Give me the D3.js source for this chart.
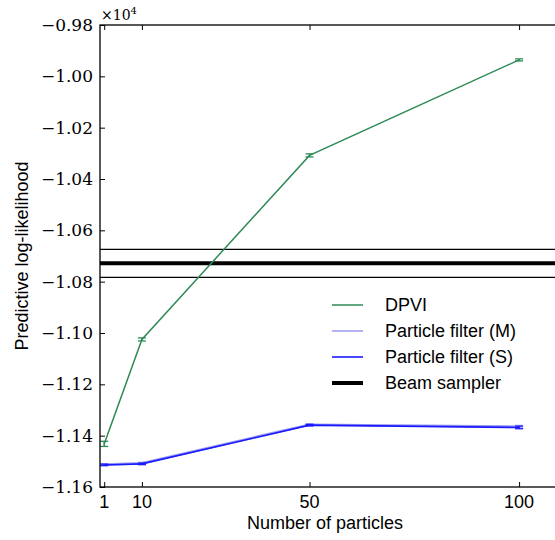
<!DOCTYPE html>
<html lang="en">
<head>
<meta charset="utf-8">
<title>Predictive log-likelihood</title>
<script src="https://cdn.jsdelivr.net/npm/d3@7"></script>
<style>
body { margin: 0; background: #fff; }
svg { display: block; }
</style>
</head>
<body>
<script>

// Data (values in units of 10^4)
var particles = [1, 10, 50, 100];
var dpvi      = [-1.1432, -1.1025, -1.0308, -0.9936];
var dpviErr   = [0.0010, 0.0006, 0.0006, 0.0004];
var pfM       = [-1.1512, -1.1507, -1.1357, -1.1365];
var pfMErr    = [0.0003, 0.0003, 0.0003, 0.0005];
var pfS       = [-1.1514, -1.1510, -1.1359, -1.1368];
var pfSErr    = [0.0003, 0.0003, 0.0003, 0.0005];
var beamMean  = -1.0728;
var beamBand  = [-1.0674, -1.0783];
var yTicks    = [-0.98, -1.00, -1.02, -1.04, -1.06, -1.08, -1.10, -1.12, -1.14, -1.16];
var xTicks    = [1, 10, 50, 100];
var legendNames = ["DPVI", "Particle filter (M)", "Particle filter (S)", "Beam sampler"];

/*********************************************************************/
// Canvas

var W = 555, H = 540;
var mLeft = 100, mTop = 25, mRight = 561, mBottom = 487;

var svg = d3.select("body").append("svg")
	.attr("width", W)
	.attr("height", H);

var x = d3.scaleLinear().domain([0, 110]).range([mLeft, mRight]);
var y = d3.scaleLinear().domain([-1.16, -0.98]).range([mBottom, mTop]);

var serif = "'DejaVu Serif', serif";
var sans = "'Liberation Sans', Arial, sans-serif";

/*********************************************************************/
// Beam sampler

svg.selectAll(".band").data(beamBand).enter()
	.append("line")
	.attr("x1", mLeft).attr("x2", mRight)
	.attr("y1", function(d){ return y(d); })
	.attr("y2", function(d){ return y(d); })
	.style("stroke", "#000")
	.style("stroke-width", 1.3);

svg.append("line")
	.attr("x1", mLeft).attr("x2", mRight)
	.attr("y1", y(beamMean)).attr("y2", y(beamMean))
	.style("stroke", "#000")
	.style("stroke-width", 4);

/*********************************************************************/
// Series

var line = d3.line()
	.x(function(d){ return x(d[0]); })
	.y(function(d){ return y(d[1]); });

function drawSeries(vals, errs, color, width){
	var pts = particles.map(function(p, i){ return [p, vals[i], errs[i]]; });
	svg.append("path")
		.attr("d", line(pts))
		.style("fill", "none")
		.style("stroke", color)
		.style("stroke-width", width);
	var g = svg.append("g");
	pts.forEach(function(d){
		var cx = x(d[0]);
		g.append("line")
			.attr("x1", cx).attr("x2", cx)
			.attr("y1", y(d[1] - d[2])).attr("y2", y(d[1] + d[2]))
			.style("stroke", color).style("stroke-width", width);
		[d[1] - d[2], d[1] + d[2]].forEach(function(v){
			g.append("line")
				.attr("x1", cx - 4).attr("x2", cx + 4)
				.attr("y1", y(v)).attr("y2", y(v))
				.style("stroke", color).style("stroke-width", 1.3);
		});
	});
}

var colors = ["#2e8b57", "#9a9af0", "#1a1aff", "#000"];

drawSeries(dpvi, dpviErr, colors[0], 1.5);
drawSeries(pfM, pfMErr, colors[1], 2.5);
drawSeries(pfS, pfSErr, colors[2], 1.6);

/*********************************************************************/
// Axes frame and ticks

svg.append("rect")
	.attr("x", mLeft).attr("y", mTop)
	.attr("width", mRight - mLeft).attr("height", mBottom - mTop)
	.style("fill", "none")
	.style("stroke", "#000")
	.style("stroke-width", 1.3);

var yAxis = svg.append("g")
	.attr("transform", "translate(" + mLeft + ",0)")
	.call(d3.axisRight(y).tickValues(yTicks).tickSize(5).tickFormat(""));
yAxis.select(".domain").remove();

svg.selectAll(".ylab").data(yTicks).enter()
	.append("text")
	.attr("x", mLeft - 7)
	.attr("y", function(d){ return y(d); })
	.attr("dy", "0.36em")
	.attr("text-anchor", "end")
	.style("font-family", serif)
	.style("font-size", "17px")
	.text(function(d){ return "\u2212" + Math.abs(d).toFixed(2); });

var xBottom = svg.append("g")
	.attr("transform", "translate(0," + mBottom + ")")
	.call(d3.axisTop(x).tickValues(xTicks).tickSize(5).tickFormat(""));
xBottom.select(".domain").remove();

var xTop = svg.append("g")
	.attr("transform", "translate(0," + mTop + ")")
	.call(d3.axisBottom(x).tickValues(xTicks).tickSize(5).tickFormat(""));
xTop.select(".domain").remove();

svg.selectAll(".tick line").style("stroke-width", 1);

svg.selectAll(".xlab").data(xTicks).enter()
	.append("text")
	.attr("x", function(d){ return x(d); })
	.attr("y", mBottom + 21)
	.attr("text-anchor", "middle")
	.style("font-family", sans)
	.style("font-size", "18px")
	.text(function(d){ return d; });

// Offset text
var off = svg.append("text")
	.attr("x", mLeft + 1)
	.attr("y", mTop - 5)
	.style("font-family", serif)
	.style("font-size", "14px");
off.append("tspan").text("\u00d710");
off.append("tspan").attr("dy", -6).style("font-size", "10px").text("4");

/*********************************************************************/
// Axis labels

svg.append("text")
	.attr("x", 325)
	.attr("y", 529)
	.attr("text-anchor", "middle")
	.style("font-family", sans)
	.style("font-size", "18px")
	.text("Number of particles");

svg.append("text")
	.attr("transform", "translate(28," + ((mTop + mBottom) / 2) + ") rotate(-90)")
	.attr("text-anchor", "middle")
	.style("font-family", sans)
	.style("font-size", "18px")
	.text("Predictive log-likelihood");

/*********************************************************************/
// Legend

var legend = svg.append("g").attr("transform", "translate(332,305)");
var widths = [1.5, 1.5, 1.6, 4];
legendNames.forEach(function(name, i){
	var ly = i * 26;
	legend.append("line")
		.attr("x1", 0).attr("x2", 31)
		.attr("y1", ly).attr("y2", ly)
		.style("stroke", colors[i])
		.style("stroke-width", widths[i]);
	legend.append("text")
		.attr("x", 53)
		.attr("y", ly)
		.attr("dy", "0.36em")
		.style("font-family", sans)
		.style("font-size", "18px")
		.text(name);
});

</script>
</body>
</html>
